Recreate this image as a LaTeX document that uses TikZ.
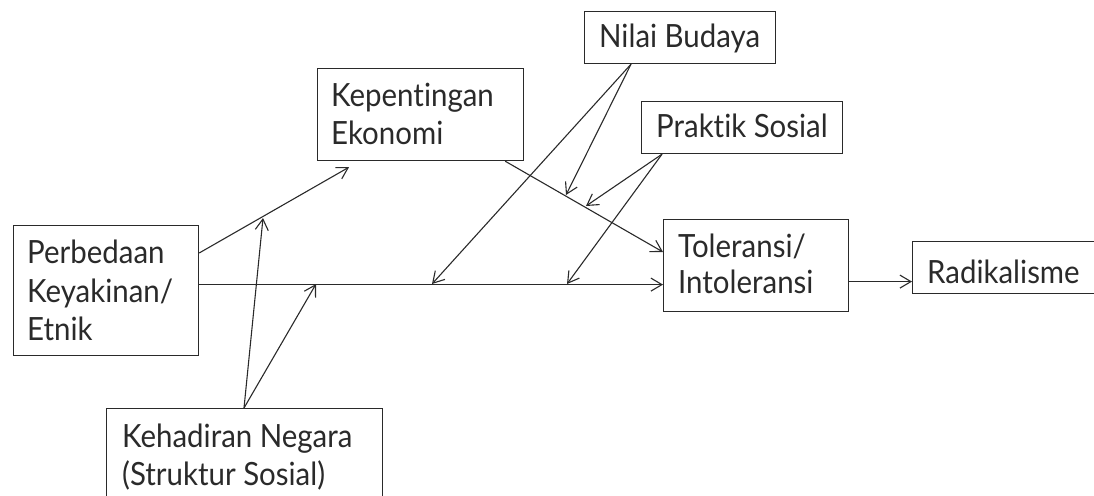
\documentclass[tikz,border=0pt]{standalone}
\usepackage{fontspec}
\setmainfont[FakeStretch=0.92, Ligatures=NoCommon]{Lato}
\usetikzlibrary{arrows.meta}
\definecolor{ink}{HTML}{2A2A2A}
\tikzset{
  box/.style={draw=ink, line width=1.2pt, rectangle, inner sep=0pt, anchor=north west},
  lbl/.style={anchor=base west, inner sep=0pt, text=ink, font=\fontsize{32}{37}\selectfont},
  arr/.style={draw=ink, line width=1.1pt, -{Straight Barb[length=11pt,width=13pt,line width=1.1pt]}}
}
\begin{document}
\begin{tikzpicture}[x=1pt,y=-1pt]
\useasboundingbox (0,0) rectangle (1094,495);
\clip (0,0) rectangle (1094,495);
% boxes
\node[box, minimum width=185pt, minimum height=130pt] (perb) at (13,225) {};
\node[box, minimum width=206pt, minimum height=92pt] (kep) at (317,68) {};
\node[box, minimum width=191pt, minimum height=52pt] (nilai) at (584,11) {};
\node[box, minimum width=201pt, minimum height=52pt] (prak) at (641,101) {};
\node[box, minimum width=185pt, minimum height=92pt] (tol) at (663,219) {};
\node[box, minimum width=190pt, minimum height=52pt] (rad) at (912,241) {};
\node[box, minimum width=276pt, minimum height=100pt] (keh) at (106,408) {};
% labels
\node[lbl] (t1) at (27,263) {Perbedaan};
\node[lbl] (t2) at (27,302) {Keyakinan/};
\node[lbl] (t3) at (27,340) {Etnik};
\node[lbl] (t4) at (331,106) {Kepentingan};
\node[lbl] (t5) at (331,144) {Ekonomi};
\node[lbl] (t6) at (599,48) {Nilai Budaya};
\node[lbl] (t7) at (656,137) {Praktik Sosial};
\node[lbl] (t8) at (678,257) {Toleransi/};
\node[lbl] (t9) at (678,293) {Intoleransi};
\node[lbl] (t10) at (927,283) {Radikalisme};
\node[lbl] (t11) at (122,447) {Kehadiran Negara};
\node[lbl] (t12) at (122,485) {(Struktur Sosial)};
% free ends on other connectors
\coordinate (cA) at (263,218);
\coordinate (cB) at (316,284);
\coordinate (cC) at (432,284);
\coordinate (cD) at (566,195);
\coordinate (cE) at (586,206);
\coordinate (cF) at (567,284);
\coordinate (pA) at ([yshift=-28pt]perb.north east);
\coordinate (pB) at ([yshift=6pt]perb.east);
\coordinate (kT) at ([xshift=32pt,yshift=-6pt]kep.south west);
\coordinate (kS) at ([xshift=-19pt]kep.south east);
\coordinate (tK) at ([yshift=-33pt]tol.north west);
\coordinate (tR) at ([yshift=-16pt]tol.east);
\coordinate (nS) at ([xshift=47pt]nilai.south west);
\coordinate (pS) at ([xshift=21pt]prak.south west);
\coordinate (hS) at ([xshift=138pt]keh.north west);
% connectors
\draw[arr] (pA) -- (kT);
\draw[arr] (pB) -- (pB -| tol.west);
\draw[arr] (kS) -- (tK);
\draw[arr] (tR) -- (tR -| rad.west);
\draw[arr] (nS) -- (cC);
\draw[arr] (nS) -- (cD);
\draw[arr] (pS) -- (cE);
\draw[arr] (pS) -- (cF);
\draw[arr] (hS) -- (cA);
\draw[arr] (hS) -- (cB);
\end{tikzpicture}
\end{document}
